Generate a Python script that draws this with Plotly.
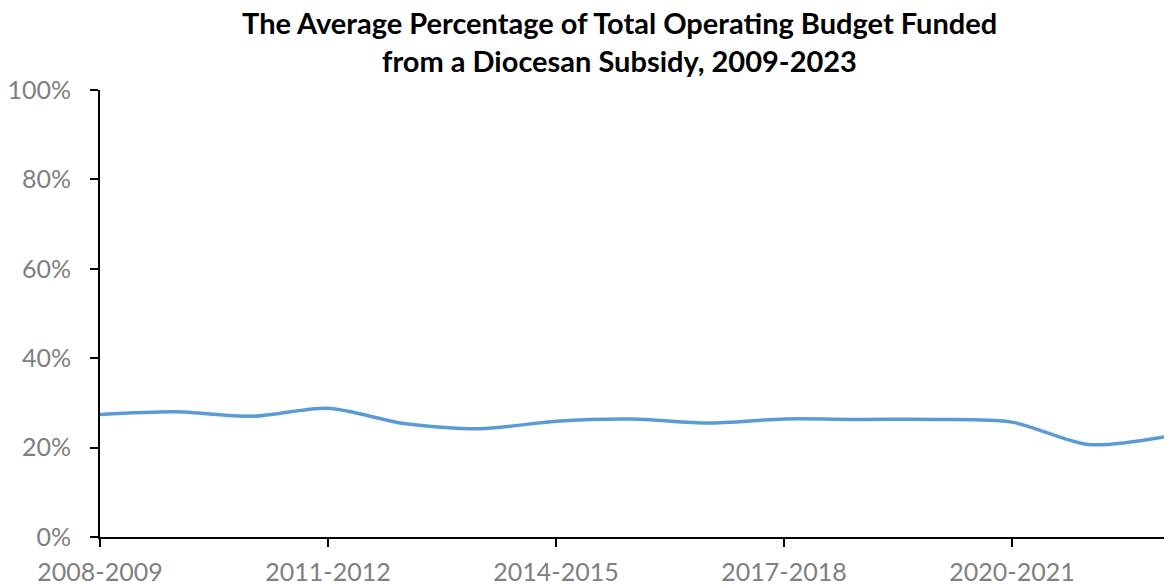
import plotly.graph_objects as go

# School years and the average share of operating budget covered by a diocesan subsidy
years = ["2008-2009", "2009-2010", "2010-2011", "2011-2012", "2012-2013",
         "2013-2014", "2014-2015", "2015-2016", "2016-2017", "2017-2018",
         "2018-2019", "2019-2020", "2020-2021", "2021-2022", "2022-2023"]
subsidy_share = [0.274, 0.280, 0.270, 0.288, 0.254, 0.242, 0.259, 0.264,
                 0.255, 0.264, 0.263, 0.263, 0.257, 0.207, 0.224]
labeled_years = ["2008-2009", "2011-2012", "2014-2015", "2017-2018", "2020-2021"]
y_ticks = [0, 0.2, 0.4, 0.6, 0.8, 1.0]

fig = go.Figure()
fig.add_trace(go.Scatter(
    x=years, y=subsidy_share, mode="lines",
    line=dict(color="#5B9BD5", width=3.5, shape="spline", smoothing=0.8),
    hoverinfo="x+y",
))

tick_font = dict(family="Lato, Open Sans, sans-serif", size=25, color="#808080")

fig.update_layout(
    width=1168, height=586,
    margin=dict(l=100, r=4, t=90, b=49),
    paper_bgcolor="white", plot_bgcolor="white",
    showlegend=False,
    xaxis=dict(
        type="category", range=[0, len(years) - 1],
        tickvals=labeled_years, ticktext=labeled_years,
        showline=True, linecolor="black", linewidth=2,
        ticks="outside", ticklen=8, tickwidth=2, tickcolor="black",
        ticklabelstandoff=4, automargin=False,
        showgrid=False, zeroline=False, tickfont=tick_font,
    ),
    yaxis=dict(
        range=[0, 1], tickvals=y_ticks, tickformat=".0%",
        showline=True, linecolor="black", linewidth=2,
        ticks="outside", ticklen=8, tickwidth=2, tickcolor="black",
        ticklabelstandoff=14, automargin=False,
        showgrid=False, zeroline=False, tickfont=tick_font,
    ),
)

# Two-line bold title placed above the plot area
title_font = dict(family="Lato, Open Sans, sans-serif", size=29, color="black", weight="bold")
for text, ypx in [("The Average Percentage of Total Operating Budget Funded", 23),
                  ("from a Diocesan Subsidy, 2009-2023", 60)]:
    fig.add_annotation(
        text=text, xref="paper", yref="paper",
        x=(619 - 100) / (1168 - 104), y=1 + (90 - ypx) / (586 - 139),
        xanchor="center", yanchor="middle", showarrow=False, font=title_font,
    )

fig.write_html("out.html")
